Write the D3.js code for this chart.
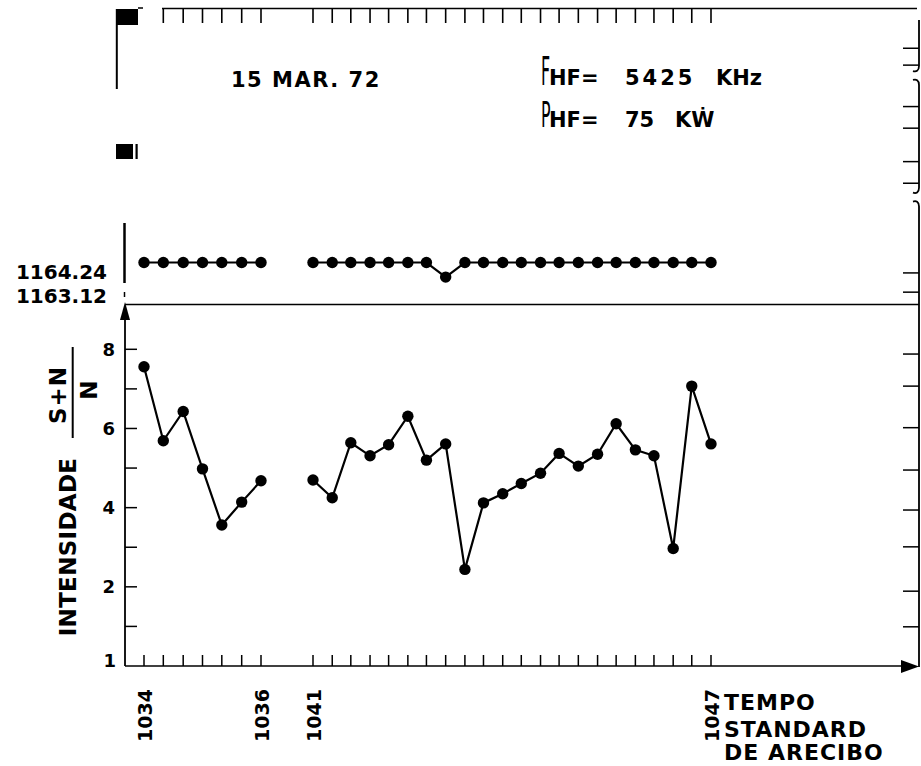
<!DOCTYPE html>
<html><head><meta charset="utf-8">
<script src="https://cdn.jsdelivr.net/npm/d3@7"></script>
<style>html,body{margin:0;padding:0;background:#fff}svg{display:block}</style>
</head><body><svg id="chart" width="921" height="766"></svg>
<script>
// Sample times, minutes after 10:00 (Arecibo standard time)
const times1 = [34.00, 34.33, 34.67, 35.00, 35.33, 35.67, 36.00];
const times2 = [41.00, 41.29, 41.57, 41.86, 42.14, 42.43, 42.71, 43.00, 43.29, 43.57, 43.86,
                44.14, 44.43, 44.71, 45.00, 45.29, 45.57, 45.86, 46.14, 46.43, 46.71, 47.00];
// Intensity (S+N)/N
const snr1 = [7.56, 5.69, 6.43, 4.98, 3.56, 4.14, 4.68];
const snr2 = [4.70, 4.25, 5.64, 5.31, 5.59, 6.31, 5.20, 5.61, 2.44, 4.12, 4.35,
              4.61, 4.87, 5.37, 5.05, 5.35, 6.12, 5.46, 5.31, 2.97, 7.07, 5.61];
// Upper trace
const upper1 = [1164.24, 1164.24, 1164.24, 1164.24, 1164.24, 1164.24, 1164.24];
const upper2 = [1164.24, 1164.24, 1164.24, 1164.24, 1164.24, 1164.24, 1164.24, 1163.48,
                1164.24, 1164.24, 1164.24, 1164.24, 1164.24, 1164.24, 1164.24, 1164.24,
                1164.24, 1164.24, 1164.24, 1164.24, 1164.24, 1164.24];
const upperLabels = [1164.24, 1163.12];
// Axis ticks and labels
const yTicks = [1, 2, 3, 4, 5, 6, 7, 8];
const yTickLabels = [2, 4, 6, 8];
const xLabelTimes = [34, 36, 41, 47];
const xLabelTexts = ["1034", "1036", "1041", "1047"];
// Ticks on the right-hand border
const rightTicksLower = [7.88, 7.07, 6.02, 4.95, 3.94, 3.01, 1.89, 0.99];
const rightTicksUpper = [86.4, 80.7, 66.7, 59.4, 48.1, 40.8, 10.5, 4.0];
const rightBreaksUpper = [[78.7, 75.7], [37.6, 34.6]];

const svg = d3.select("#chart");
const W = 921, H = 766;
svg.append("rect").attr("width", W).attr("height", H).attr("fill", "#fff");

const FONT = "'DejaVu Sans', sans-serif";
const INK = "#000";

// Scales: broken time axis, lower intensity axis, upper trace axis, upper frame
const x = d3.scaleLinear().domain([34, 36, 41, 47]).range([144, 261, 313, 711]);
const y = d3.scaleLinear().domain([0, 8]).range([666, 349.3]);
const yUp = d3.scaleLinear().domain([1163.12, 1164.24]).range([284, 262.5]);
const yFrame = d3.scaleLinear().domain([0, 100]).range([304, 8]);

const axisX = 125, rightX = 919, dividerY = 304.5;

const g = svg.append("g").attr("stroke-linecap", "butt");

// ---- Frame lines ----
// divider between panels
g.append("line").attr("x1", axisX).attr("x2", rightX).attr("y1", dividerY).attr("y2", dividerY)
  .attr("stroke", INK).attr("stroke-width", 1.5);
// bottom time axis
g.append("line").attr("x1", axisX).attr("x2", 903).attr("y1", y(0)).attr("y2", y(0))
  .attr("stroke", INK).attr("stroke-width", 1.6);
g.append("path").attr("d", `M${rightX},${y(0) + 0.5}L901,${y(0) - 6}L901,${y(0) + 7}Z`).attr("fill", INK);
// vertical intensity axis with arrow
g.append("line").attr("x1", axisX).attr("x2", axisX).attr("y1", y(0)).attr("y2", 318)
  .attr("stroke", INK).attr("stroke-width", 1.8);
g.append("path").attr("d", `M${axisX},302L${axisX - 5},320L${axisX + 5},320Z`).attr("fill", INK);

// intensity ticks
g.selectAll(".ytick").data(yTicks).join("line")
  .attr("x1", axisX).attr("x2", axisX + 12)
  .attr("y1", d => y(d)).attr("y2", d => y(d))
  .attr("stroke", INK).attr("stroke-width", 1.5);
// time ticks on the bottom axis
g.selectAll(".xtick").data(times1.concat(times2)).join("line")
  .attr("x1", d => x(d)).attr("x2", d => x(d))
  .attr("y1", y(0)).attr("y2", y(0) - 11)
  .attr("stroke", INK).attr("stroke-width", 1.5);

// top edge with time ticks
g.append("line").attr("x1", 162).attr("x2", 917).attr("y1", 8.5).attr("y2", 8.5)
  .attr("stroke", INK).attr("stroke-width", 1.5);
g.selectAll(".ttick").data(times1.slice(1).concat(times2)).join("line")
  .attr("x1", d => x(d)).attr("x2", d => x(d))
  .attr("y1", 8.5).attr("y2", 23)
  .attr("stroke", INK).attr("stroke-width", 1.6);

// top-left marker blocks
g.append("rect").attr("x", 116).attr("y", 9).attr("width", 22).attr("height", 16).attr("fill", INK);
g.append("line").attr("x1", 138).attr("x2", 143).attr("y1", 8).attr("y2", 8).attr("stroke", INK).attr("stroke-width", 1.5);
g.append("line").attr("x1", 116.8).attr("x2", 116.8).attr("y1", 9).attr("y2", 89).attr("stroke", INK).attr("stroke-width", 2);
g.append("rect").attr("x", 116).attr("y", 144).attr("width", 17).attr("height", 15).attr("fill", INK);
g.append("rect").attr("x", 135.5).attr("y", 144).attr("width", 2.2).attr("height", 15).attr("fill", INK);

// upper-panel left bar
g.append("line").attr("x1", axisX - 0.5).attr("x2", axisX - 0.5).attr("y1", 223).attr("y2", 283)
  .attr("stroke", INK).attr("stroke-width", 2.5);
g.append("line").attr("x1", axisX - 0.5).attr("x2", axisX - 0.5).attr("y1", 292).attr("y2", 297)
  .attr("stroke", INK).attr("stroke-width", 1.5);

// right-hand border with breaks
const breakYs = rightBreaksUpper.map(b => b.map(yFrame));
const segs = [[20, breakYs[0][0]], [breakYs[0][1], breakYs[1][0]], [breakYs[1][1], y(0) + 1]];
segs.forEach(([a, b], i) => {
  let d = "";
  if (i > 0) d += `M${rightX - 6},${a}C${rightX - 3},${a - 1} ${rightX},${a} ${rightX},${a + 5}L${rightX},${b - (i < segs.length - 1 ? 5 : 0)}`;
  else d += `M${rightX},${a}L${rightX},${b - 5}`;
  if (i < segs.length - 1) d += `C${rightX},${b} ${rightX - 3},${b + 1} ${rightX - 6},${b}`;
  g.append("path").attr("d", d).attr("fill", "none").attr("stroke", INK).attr("stroke-width", 1.8);
});
g.selectAll(".rtickU").data(rightTicksUpper).join("line")
  .attr("x1", rightX - 16).attr("x2", rightX).attr("y1", d => yFrame(d)).attr("y2", d => yFrame(d))
  .attr("stroke", INK).attr("stroke-width", 1.5);
g.selectAll(".rtickL").data(rightTicksLower).join("line")
  .attr("x1", rightX - 16).attr("x2", rightX).attr("y1", d => y(d)).attr("y2", d => y(d))
  .attr("stroke", INK).attr("stroke-width", 1.5);

// ---- Data ----
function drawSeries(ts, vs, ys) {
  const pts = ts.map((t, i) => [x(t), ys(vs[i])]);
  g.append("path").attr("d", d3.line()(pts)).attr("fill", "none")
    .attr("stroke", INK).attr("stroke-width", 2.2);
  g.selectAll(null).data(pts).join("circle")
    .attr("cx", d => d[0]).attr("cy", d => d[1]).attr("r", 5.7).attr("fill", INK);
}
drawSeries(times1, snr1, y);
drawSeries(times2, snr2, y);
drawSeries(times1, upper1, yUp);
drawSeries(times2, upper2, yUp);

// ---- Text ----
const T = svg.append("g").attr("font-family", FONT).attr("fill", INK).attr("font-weight", "bold");

// upper trace labels, stacked at the left of the upper panel
T.selectAll(".ul").data(upperLabels).join("text")
  .attr("x", 107).attr("y", (d, i) => yUp(d) + 16.5 + i * 2)
  .attr("text-anchor", "end").attr("font-size", 20)
  .text(d => d.toFixed(2));

// intensity tick labels
T.selectAll(".yl").data(yTickLabels).join("text")
  .attr("x", 115).attr("y", d => y(d) + 6.5)
  .attr("text-anchor", "end").attr("font-size", 18)
  .text(d => d);
T.append("text").attr("x", 116).attr("y", 667).attr("text-anchor", "end")
  .attr("font-size", 18).text("1");

// time labels (vertical)
T.selectAll(".xl").data(xLabelTimes).join("text")
  .attr("transform", d => `translate(${x(d) + 8},689) rotate(-90)`)
  .attr("text-anchor", "end").attr("font-size", 19)
  .text((d, i) => xLabelTexts[i]);

// axis title: INTENSIDADE (S+N)/N
T.append("text").attr("transform", "translate(76,547) rotate(-90)")
  .attr("text-anchor", "middle").attr("font-size", 23)
  .attr("letter-spacing", 0.3).text("INTENSIDADE");
T.append("text").attr("transform", "translate(65.5,395) rotate(-90)")
  .attr("text-anchor", "middle").attr("font-size", 23)
  .attr("letter-spacing", 1).text("S+N");
g.append("line").attr("x1", 72.7).attr("x2", 72.7).attr("y1", 347).attr("y2", 438)
  .attr("stroke", INK).attr("stroke-width", 2);
T.append("text").attr("transform", "translate(96.5,390) rotate(-90)")
  .attr("text-anchor", "middle").attr("font-size", 23).text("N");

// time axis title
const timeTitle = ["TEMPO", "STANDARD", "DE ARECIBO"];
const timeTitleY = [710, 736.5, 760];
T.selectAll(".tt").data(timeTitle).join("text")
  .attr("x", 724).attr("y", (d, i) => timeTitleY[i])
  .attr("font-size", 22).attr("letter-spacing", 1)
  .text(d => d);

// date and transmitter settings
T.append("text").attr("x", 231).attr("y", 87).attr("font-size", 21)
  .attr("letter-spacing", 1.5).text("15 MAR. 72");

function bigLetter(ch, x0, base, sy) {
  T.append("text").attr("transform", `translate(${x0},${base}) scale(0.72,${sy})`)
    .attr("font-size", 22).attr("font-weight", "normal").text(ch);
}
bigLetter("F", 541, 85, 1.8);
bigLetter("P", 541, 126.5, 1.65);
const setRows = [
  { base: 85, parts: [["HF=", 549, 0], ["5425", 625, 3], ["KHz", 716, 0]] },
  { base: 126.5, parts: [["HF=", 549, 0], ["75", 625, 0], ["KẆ", 675, 0]] }
];
setRows.forEach(r => r.parts.forEach(([s, px, ls]) => {
  T.append("text").attr("x", px).attr("y", r.base).attr("font-size", 21)
    .attr("letter-spacing", ls).text(s);
}));
</script>
</body></html>
